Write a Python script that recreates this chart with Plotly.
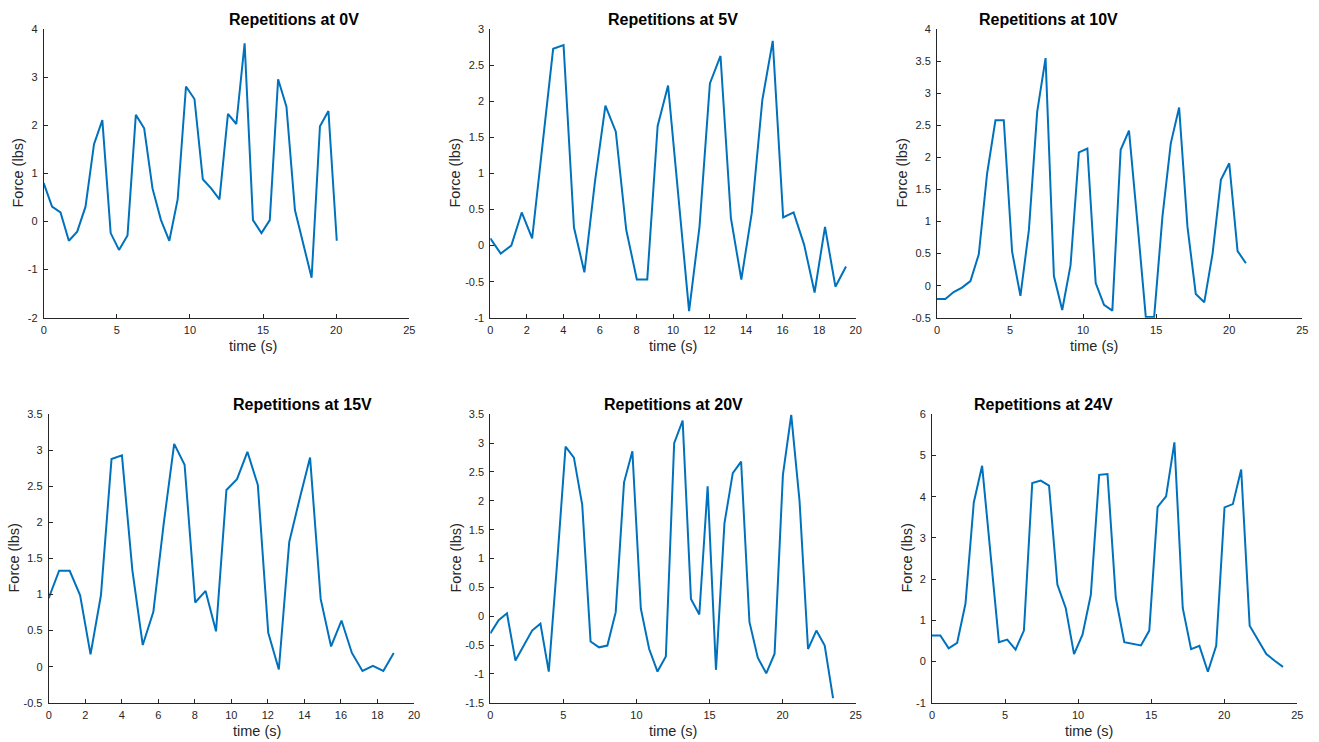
import plotly.graph_objects as go

W, H = 1319, 742

titles = ["Repetitions at 0V", "Repetitions at 5V", "Repetitions at 10V",
          "Repetitions at 15V", "Repetitions at 20V", "Repetitions at 24V"]

t_0v = [0, 0.57, 1.15, 1.72, 2.29, 2.86, 3.44, 4.01, 4.58, 5.15, 5.73, 6.30, 6.87, 7.44,
        8.02, 8.59, 9.16, 9.73, 10.31, 10.88, 11.45, 12.02, 12.60, 13.17, 13.74, 14.31,
        14.89, 15.46, 16.03, 16.60, 17.18, 17.75, 18.32, 18.89, 19.47, 20.04]
f_0v = [0.80, 0.31, 0.19, -0.40, -0.21, 0.31, 1.61, 2.11, -0.24, -0.59,
        -0.29, 2.22, 1.94, 0.69, 0.03, -0.40, 0.46, 2.81, 2.55, 0.88,
        0.69, 0.46, 2.24, 2.03, 3.71, 0.03, -0.24, 0.03, 2.96, 2.39,
        0.24, -0.45, -1.17, 1.98, 2.30, -0.40]

t_5v = [0, 0.57, 1.15, 1.72, 2.29, 2.86, 3.44, 4.01, 4.58, 5.15, 5.73, 6.30, 6.87, 7.44,
        8.02, 8.59, 9.16, 9.73, 10.31, 10.88, 11.45, 12.02, 12.60, 13.17, 13.74, 14.31,
        14.89, 15.46, 16.03, 16.60, 17.18, 17.75, 18.32, 18.89, 19.47]
f_5v = [0.10, -0.11, 0.00, 0.46, 0.10, 1.45, 2.73, 2.78, 0.25, -0.37,
        0.89, 1.94, 1.58, 0.22, -0.47, -0.47, 1.66, 2.22, 0.65, -0.91,
        0.26, 2.25, 2.63, 0.38, -0.47, 0.45, 2.02, 2.84, 0.39, 0.46,
        0.01, -0.65, 0.26, -0.57, -0.29]

t_10v = [0, 0.57, 1.14, 1.71, 2.29, 2.86, 3.43, 4.00, 4.57, 5.14, 5.71, 6.29, 6.86, 7.43,
         8.00, 8.57, 9.14, 9.71, 10.29, 10.86, 11.43, 12.00, 12.57, 13.14, 13.71, 14.29,
         14.86, 15.43, 16.00, 16.57, 17.14, 17.71, 18.29, 18.86, 19.43, 20.00, 20.57, 21.14]
f_10v = [-0.21, -0.21, -0.10, -0.03, 0.07, 0.49, 1.75, 2.58, 2.58, 0.53,
         -0.16, 0.87, 2.72, 3.55, 0.15, -0.38, 0.32, 2.08, 2.14, 0.04,
         -0.30, -0.39, 2.12, 2.42, 1.00, -0.49, -0.49, 1.08, 2.22, 2.78,
         0.92, -0.13, -0.26, 0.50, 1.65, 1.91, 0.54, 0.35]

t_15v = [0, 0.57, 1.15, 1.72, 2.29, 2.86, 3.44, 4.01, 4.58, 5.15, 5.73, 6.30, 6.87, 7.44,
         8.02, 8.59, 9.16, 9.73, 10.31, 10.88, 11.45, 12.02, 12.60, 13.17, 13.74, 14.31,
         14.89, 15.46, 16.03, 16.60, 17.18, 17.75, 18.32, 18.89]
f_15v = [0.95, 1.33, 1.33, 0.99, 0.17, 0.99, 2.88, 2.93, 1.34, 0.30,
         0.76, 1.99, 3.09, 2.80, 0.89, 1.05, 0.49, 2.45, 2.60, 2.98,
         2.52, 0.47, -0.04, 1.73, 2.33, 2.90, 0.94, 0.28, 0.64, 0.19,
         -0.06, 0.01, -0.06, 0.19]

t_20v = [0, 0.57, 1.14, 1.72, 2.29, 2.86, 3.43, 4.00, 4.58, 5.15, 5.72, 6.29, 6.86, 7.44,
         8.01, 8.58, 9.15, 9.72, 10.30, 10.87, 11.44, 12.01, 12.58, 13.16, 13.73, 14.30,
         14.87, 15.44, 16.02, 16.59, 17.16, 17.73, 18.30, 18.88, 19.45, 20.02, 20.59, 21.16,
         21.74, 22.31, 22.88, 23.45]
f_20v = [-0.30, -0.07, 0.05, -0.77, -0.51, -0.25, -0.13, -0.96, 0.95, 2.94,
         2.75, 1.93, -0.44, -0.54, -0.51, 0.07, 2.32, 2.86, 0.13, -0.57,
         -0.96, -0.70, 3.00, 3.39, 0.30, 0.03, 2.25, -0.93, 1.61, 2.48,
         2.68, -0.10, -0.72, -0.99, -0.65, 2.45, 3.49, 1.99, -0.57, -0.25,
         -0.51, -1.42]

t_24v = [0, 0.57, 1.14, 1.72, 2.29, 2.86, 3.43, 4.00, 4.58, 5.15, 5.72, 6.29, 6.86, 7.44,
         8.01, 8.58, 9.15, 9.72, 10.30, 10.87, 11.44, 12.01, 12.58, 13.16, 13.73, 14.30,
         14.87, 15.44, 16.02, 16.59, 17.16, 17.73, 18.30, 18.88, 19.45, 20.02, 20.59, 21.16,
         21.74, 22.31, 22.88, 23.45, 24.02]
f_24v = [0.63, 0.63, 0.32, 0.45, 1.40, 3.86, 4.75, 2.63, 0.47, 0.53,
         0.29, 0.75, 4.33, 4.39, 4.27, 1.87, 1.30, 0.18, 0.65, 1.62,
         4.53, 4.55, 1.54, 0.47, 0.43, 0.39, 0.75, 3.75, 4.01, 5.32,
         1.30, 0.30, 0.38, -0.25, 0.38, 3.74, 3.82, 4.66, 0.87, 0.51,
         0.18, 0.02, -0.13]

x_ranges = [[0, 25], [0, 20], [0, 25], [0, 20], [0, 25], [0, 25]]
x_ticks = [[0, 5, 10, 15, 20, 25],
           [0, 2, 4, 6, 8, 10, 12, 14, 16, 18, 20],
           [0, 5, 10, 15, 20, 25],
           [0, 2, 4, 6, 8, 10, 12, 14, 16, 18, 20],
           [0, 5, 10, 15, 20, 25],
           [0, 5, 10, 15, 20, 25]]
y_ticks = [[-2, -1, 0, 1, 2, 3, 4],
           [-1, -0.5, 0, 0.5, 1, 1.5, 2, 2.5, 3],
           [-0.5, 0, 0.5, 1, 1.5, 2, 2.5, 3, 3.5, 4],
           [-0.5, 0, 0.5, 1, 1.5, 2, 2.5, 3, 3.5],
           [-1.5, -1, -0.5, 0, 0.5, 1, 1.5, 2, 2.5, 3, 3.5],
           [-1, 0, 1, 2, 3, 4, 5, 6]]

series = [(t_0v, f_0v), (t_5v, f_5v), (t_10v, f_10v),
          (t_15v, f_15v), (t_20v, f_20v), (t_24v, f_24v)]

# axes boxes in pixels: (left, right, top, bottom)
boxes = [(43.7, 409.3, 29.3, 317.7), (490.3, 855.7, 29.3, 317.7), (937.0, 1302.3, 29.3, 317.7),
         (48.7, 414.0, 414.3, 702.7), (490.3, 855.7, 414.3, 702.7), (932.0, 1297.3, 414.3, 702.7)]
ylabel_x = [18, 455, 902, 13, 455, 906]

FONT = "Liberation Sans, Arial, Helvetica, sans-serif"


def fmt(v):
    return "%g" % v


fig = go.Figure()
axcol = "#262626"
annotations = []
for i, ((t, f), (l, r, tp, b)) in enumerate(zip(series, boxes)):
    n = "" if i == 0 else str(i + 1)
    fig.add_trace(go.Scatter(x=t, y=f, mode="lines", xaxis="x" + n, yaxis="y" + n,
                             line=dict(color="#0072BD", width=2), showlegend=False,
                             hoverinfo="skip"))
    common = dict(showline=True, linecolor=axcol, linewidth=1, ticks="inside", ticklen=4,
                  tickcolor=axcol, tickwidth=1, showgrid=False, zeroline=False,
                  automargin=False,
                  tickfont=dict(family=FONT, size=11, color=axcol),
                  mirror=False, fixedrange=True)
    fig.update_layout(**{
        "xaxis" + n: dict(domain=[l / W, r / W], range=x_ranges[i], anchor="y" + n,
                          tickvals=x_ticks[i], ticktext=[fmt(v) for v in x_ticks[i]],
                          ticklabelstandoff=2, **common),
        "yaxis" + n: dict(domain=[1 - b / H, 1 - tp / H], range=[y_ticks[i][0], y_ticks[i][-1]],
                          anchor="x" + n, tickvals=y_ticks[i],
                          ticktext=[fmt(v) for v in y_ticks[i]], ticklabelstandoff=3, **common),
    })
    cx = (l + r) / 2 / W
    annotations.append(dict(text="<b>" + titles[i] + "</b>", x=cx, y=1 - (tp - 10) / H,
                            xref="paper", yref="paper", showarrow=False, yanchor="middle",
                            font=dict(family=FONT, size=16, color="#000000")))
    annotations.append(dict(text="time (s)", x=cx, y=1 - (b + 28) / H,
                            xref="paper", yref="paper", showarrow=False, yanchor="middle",
                            font=dict(family=FONT, size=14.5, color=axcol)))
    annotations.append(dict(text="Force (lbs)", x=ylabel_x[i] / W, y=1 - (tp + b) / 2 / H,
                            xref="paper", yref="paper", showarrow=False, textangle=-90,
                            xanchor="center", yanchor="middle",
                            font=dict(family=FONT, size=14.5, color=axcol)))

fig.update_layout(template="none", width=W, height=H, margin=dict(l=0, r=0, t=0, b=0, pad=0),
                  paper_bgcolor="white", plot_bgcolor="white", annotations=annotations,
                  showlegend=False)

fig.write_html("out.html", config={"displayModeBar": False, "staticPlot": True},
               post_script="document.body.style.margin='0px';document.body.style.overflow='hidden';")
